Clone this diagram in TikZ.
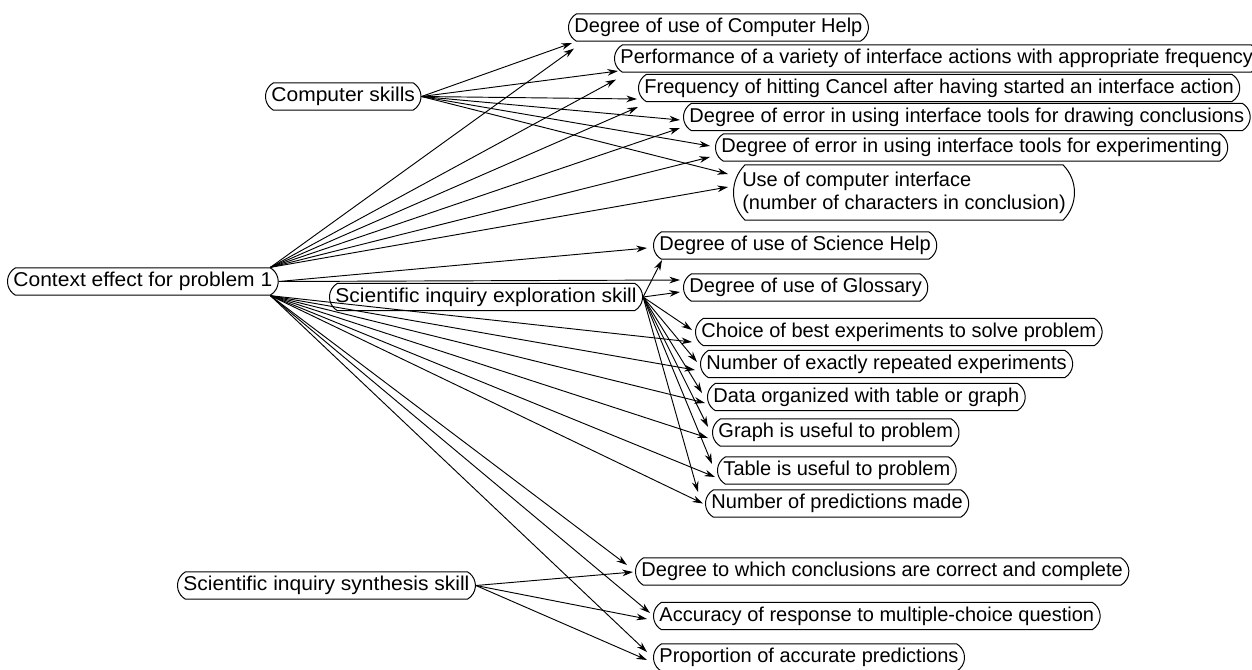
\documentclass[tikz,border=0pt]{standalone}
\usepackage{fontspec}
\setmainfont{Liberation Sans}
\newfontfamily\widefont[FakeStretch=1.05]{Liberation Sans}
\usetikzlibrary{shapes.misc,arrows.meta,calc}
\newcommand{\boxfont}{\fontsize{15}{17.4}\selectfont}
\newcommand{\srcfont}{\widefont\fontsize{15}{17.4}\selectfont}

\begin{document}
\begin{tikzpicture}[x=0.75pt,y=0.75pt,yscale=-1,xscale=1,
  item/.style={draw, rounded rectangle, rounded rectangle arc length=120, line width=0.75pt, inner xsep=2pt, inner ysep=3pt, text height=11pt, text depth=3.5pt, anchor=west, font=\boxfont},
  source/.style={item, font=\srcfont},
  arr/.style={-{Stealth[length=8pt,width=5pt]}, line width=0.7pt}]
\useasboundingbox (0,0) rectangle (1252,669);

% Text Node
\draw (265,96.5) node [source] (cs) {Computer skills};
% Text Node
\draw (7,281.5) node [source] (ctx) {Context effect for problem 1};
% Text Node
\draw (329,297) node [source] (expl) {Scientific inquiry exploration skill};
% Text Node
\draw (177,585.5) node [source] (syn) {Scientific inquiry synthesis skill};

% Text Node
\draw (568,27.5) node [item] (chelp) {Degree of use of Computer Help};
% Text Node
\draw (614,58.5) node [item] (perf) {Performance of a variety of interface actions with appropriate frequency};
% Text Node
\draw (638,88) node [item] (cancel) {Frequency of hitting Cancel after having started an interface action\hspace{8pt}};
% Text Node
\draw (683,117) node [item] (errconc) {Degree of error in using interface tools for drawing conclusions};
% Text Node
\draw (715,147.5) node [item] (errexp) {Degree of error in using interface tools for experimenting\hspace{3pt}};
% Text Node
\draw (733,192.5) node [draw, rounded rectangle, rounded rectangle arc length=90, line width=0.75pt, inner xsep=2pt, inner ysep=5pt, anchor=west, align=left, font=\boxfont] (iface) {Use of computer interface\\(number of characters in conclusion)};
% Text Node
\draw (653,245.5) node [item] (shelp) {Degree of use of Science Help};
% Text Node
\draw (683,287.5) node [item] (gloss) {Degree of use of Glossary};
% Text Node
\draw (695,332) node [item] (choice) {Choice of best experiments to solve problem};
% Text Node
\draw (700,364) node [item] (rep) {Number of exactly repeated experiments\hspace{8pt}};
% Text Node
\draw (707,397) node [item] (data) {Data organized with table or graph};
% Text Node
\draw (712,432.5) node [item] (graph) {Graph is useful to problem\hspace{3pt}};
% Text Node
\draw (717,470.5) node [item] (table) {Table is useful to problem};
% Text Node
\draw (705,503.5) node [item] (npred) {Number of predictions made};
% Text Node
\draw (635,571.5) node [item] (concl) {Degree to which conclusions are correct and complete};
% Text Node
\draw (653,616) node [item] (mcq) {Accuracy of response to multiple-choice question\hspace{3pt}};
% Text Node
\draw (653,657.5) node [item] (prop) {Proportion of accurate predictions};

%Straight Lines (computer skills)
\draw [arr] (cs.east) -- ($(chelp.west)+(4,15.5)$);
\draw [arr] (cs.east) -- ($(perf.west)+(4,12.5)$);
\draw [arr] (cs.east) -- ($(cancel.west)+(-1,11)$);
\draw [arr] (cs.east) -- ($(errconc.west)+(-3,3)$);
\draw [arr] (cs.east) -- ($(errexp.west)+(-5,-1.5)$);
\draw [arr] (cs.east) -- ($(iface.west)+(-5,-18.5)$);

%Straight Lines (context effect)
\draw [arr] (ctx.north east) -- ($(chelp.west)+(6,21)$);
\draw [arr] (ctx.north east) -- ($(perf.west)+(2,21)$);
\draw [arr] (ctx.north east) -- ($(cancel.west)+(0,19)$);
\draw [arr] (ctx.north east) -- ($(errconc.west)+(-3,11)$);
\draw [arr] (ctx.north east) -- ($(errexp.west)+(-5,9.5)$);
\draw [arr] (ctx.north east) -- ($(iface.west)+(-5,-5.5)$);
\draw [arr] (ctx.east) -- ($(shelp.west)+(-6,2.5)$);
\draw [arr] (ctx.east) -- ($(gloss.west)+(-3,-7.5)$);
\draw [arr] (ctx.south east) -- ($(choice.west)+(-3,10)$);
\draw [arr] (ctx.south east) -- ($(rep.west)+(-5,6)$);
\draw [arr] (ctx.south east) -- ($(data.west)+(-2,6)$);
\draw [arr] (ctx.south east) -- ($(graph.west)+(-4,5.5)$);
\draw [arr] (ctx.south east) -- ($(table.west)+(-2,6.5)$);
\draw [arr] (ctx.south east) -- ($(npred.west)+(-2,0)$);
\draw [arr] (ctx.south east) -- ($(concl.west)+(-8,-6.5)$);
\draw [arr] (ctx.south east) -- ($(mcq.west)+(-3,-3)$);
\draw [arr] (ctx.south east) -- ($(prop.west)+(-6,-5.5)$);

%Straight Lines (exploration skill)
\draw [arr] (expl.east) -- ($(shelp.west)+(9,14.5)$);
\draw [arr] (expl.east) -- ($(gloss.west)+(-3,4.5)$);
\draw [arr] (expl.east) -- ($(choice.west)+(-3,-2)$);
\draw [arr] (expl.east) -- ($(rep.west)+(-3,-2)$);
\draw [arr] (expl.east) -- ($(data.west)+(-5,-4)$);
\draw [arr] (expl.east) -- ($(graph.west)+(-4,-5.5)$);
\draw [arr] (expl.east) -- ($(table.west)+(-5,-6.5)$);
\draw [arr] (expl.east) -- ($(npred.west)+(-7,-11.5)$);

%Straight Lines (synthesis skill)
\draw [arr] (syn.east) -- ($(concl.west)+(-2,0.5)$);
\draw [arr] (syn.east) -- ($(mcq.west)+(-6,3)$);
\draw [arr] (syn.east) -- ($(prop.west)+(-6,2.5)$);

\end{tikzpicture}
\end{document}
